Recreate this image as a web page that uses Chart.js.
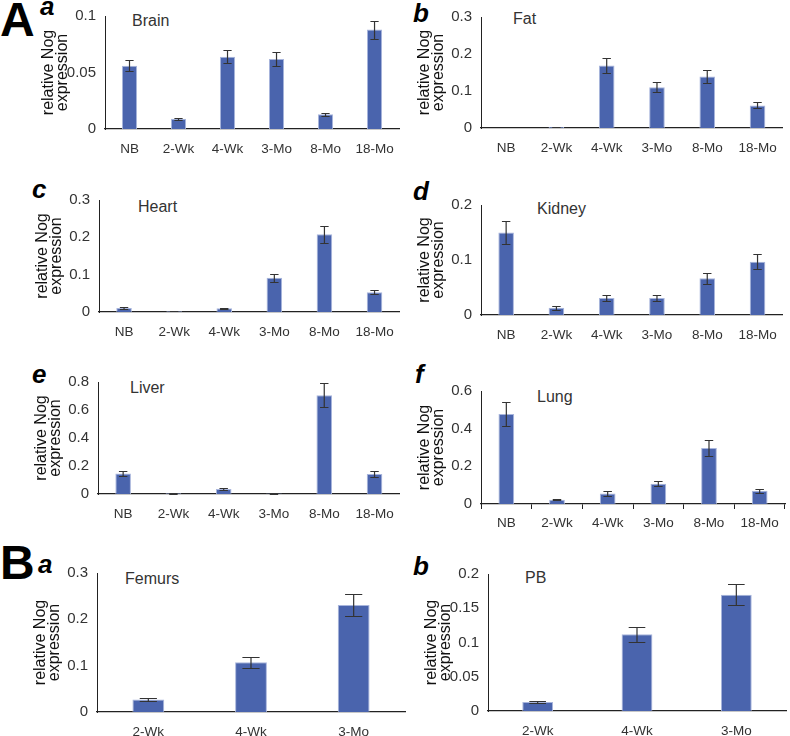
<!DOCTYPE html>
<html>
<head>
<meta charset="utf-8">
<script src="https://cdn.jsdelivr.net/npm/chart.js@4.4.1/dist/chart.umd.min.js"></script>
<style>
  body { margin: 0; background: #fff; font-family: "Liberation Sans", Arial, sans-serif; }
  #fig { position: relative; width: 790px; height: 736px; overflow: hidden; }
  #fig canvas { position: absolute; }
  .lbl { position: absolute; line-height: 1; white-space: nowrap; color: #000; }
  .big { font-size: 48px; font-weight: bold; }
  .sub { font-size: 26px; font-weight: bold; font-style: italic; }
  .organ { position: absolute; font-size: 16px; line-height: 1; color: #333; }
</style>
</head>
<body>
<div id="fig">
  <div class="lbl big" style="left:0px;top:-4px">A</div>
  <div class="lbl sub" style="left:40px;top:-7px">a</div>
  <div class="lbl sub" style="left:413px;top:0px">b</div>
  <div class="lbl sub" style="left:32px;top:176px">c</div>
  <div class="lbl sub" style="left:413px;top:178px">d</div>
  <div class="lbl sub" style="left:32px;top:361px">e</div>
  <div class="lbl sub" style="left:415px;top:361px">f</div>
  <div class="lbl big" style="left:0px;top:539px">B</div>
  <div class="lbl sub" style="left:38px;top:551px">a</div>
  <div class="lbl sub" style="left:413px;top:553px">b</div>

  <div class="organ" style="left:132px;top:13px">Brain</div>
  <div class="organ" style="left:513px;top:11px">Fat</div>
  <div class="organ" style="left:138px;top:199px">Heart</div>
  <div class="organ" style="left:537px;top:201px">Kidney</div>
  <div class="organ" style="left:130px;top:380px">Liver</div>
  <div class="organ" style="left:537px;top:389px">Lung</div>
  <div class="organ" style="left:125px;top:571px">Femurs</div>
  <div class="organ" style="left:525px;top:570px">PB</div>
</div>
<script>
// age groups
var agesA = ["NB", "2-Wk", "4-Wk", "3-Mo", "8-Mo", "18-Mo"];
var agesB = ["2-Wk", "4-Wk", "3-Mo"];

// means and error bars
var brainMean  = [0.056, 0.009, 0.064, 0.062, 0.013, 0.088];
var brainErr   = [0.005, 0.001, 0.006, 0.006, 0.0015, 0.008];
var fatMean    = [0, 0.003, 0.169, 0.110, 0.139, 0.061];
var fatErr     = [0, 0.0005, 0.021, 0.014, 0.017, 0.008];
var heartMean  = [0.011, 0.002, 0.010, 0.092, 0.208, 0.053];
var heartErr   = [0.002, 0.0005, 0.001, 0.011, 0.023, 0.0055];
var kidneyMean = [0.150, 0.013, 0.031, 0.031, 0.067, 0.097];
var kidneyErr  = [0.021, 0.003, 0.005, 0.005, 0.010, 0.0135];
var liverMean  = [0.147, 0.005, 0.035, 0.004, 0.705, 0.142];
var liverErr   = [0.020, 0.002, 0.005, 0.002, 0.085, 0.020];
var lungMean   = [0.478, 0.023, 0.056, 0.108, 0.298, 0.071];
var lungErr    = [0.065, 0.004, 0.011, 0.015, 0.041, 0.010];
var femurMean  = [0.027, 0.1075, 0.231];
var femurErr   = [0.004, 0.0115, 0.024];
var pbMean     = [0.013, 0.112, 0.1697];
var pbErr      = [0.001, 0.011, 0.0155];

// y axis ranges: [max, step]
var brainTicks  = [0.1, 0.05];
var fatTicks    = [0.3, 0.1];
var heartTicks  = [0.3, 0.1];
var kidneyTicks = [0.2, 0.1];
var liverTicks  = [0.8, 0.2];
var lungTicks   = [0.6, 0.2];
var femurTicks  = [0.3, 0.1];
var pbTicks     = [0.2, 0.05];

var YW = 90, XH = 30, PADT = 10, PADR = 4;
var FONT = "'Liberation Sans', Arial, sans-serif";

var errorBars = {
    id: 'errorBars',
    afterDatasetsDraw: function(chart) {
        var ctx = chart.ctx;
        var y = chart.scales.y;
        var ds = chart.data.datasets[0];
        var meta = chart.getDatasetMeta(0);
        ctx.save();
        ctx.strokeStyle = '#333';
        ctx.lineWidth = 1.2;
        meta.data.forEach(function(bar, i) {
            var e = ds.errors[i];
            if (!e) return;
            var v = ds.data[i];
            var top = Math.round(y.getPixelForValue(v + e)) + 0.5;
            var bot = Math.round(y.getPixelForValue(Math.max(0, v - e))) + 0.5;
            var half = bar.width * 0.27;
            ctx.beginPath();
            ctx.moveTo(bar.x, top); ctx.lineTo(bar.x, bot);
            ctx.moveTo(bar.x - half, top); ctx.lineTo(bar.x + half, top);
            ctx.moveTo(bar.x - half, bot); ctx.lineTo(bar.x + half, bot);
            ctx.stroke();
        });
        ctx.restore();
    }
};

function panel(box, labels, mean, err, ticks, xTicks) {
    var c = document.createElement('canvas');
    var left = box[0] - YW, top = box[1] - PADT;
    var w = box[2] - left + PADR, h = box[3] - top + XH;
    c.width = w; c.height = h;
    c.style.left = left + 'px'; c.style.top = top + 'px';
    document.getElementById('fig').appendChild(c);

    new Chart(c, {
        type: 'bar',
        data: {
            labels: labels,
            datasets: [{
                data: mean,
                errors: err,
                backgroundColor: '#4a64ad',
                borderColor: '#a8b5dc',
                borderWidth: 1,
                barPercentage: 0.31,
                categoryPercentage: 1
            }]
        },
        options: {
            responsive: false,
            animation: false,
            layout: { padding: { top: PADT, right: PADR, left: 0, bottom: 0 } },
            plugins: { legend: { display: false }, tooltip: { enabled: false } },
            scales: {
                x: {
                    afterFit: function(s) { s.height = XH; },
                    grid: xTicks
                        ? { display: true, drawOnChartArea: false, drawTicks: true, tickLength: 5, color: '#222' }
                        : { display: false, drawTicks: false },
                    border: { display: true, color: '#222', width: 1.3 },
                    ticks: {
                        padding: xTicks ? 6 : 12,
                        autoSkip: false, maxRotation: 0,
                        color: '#333', font: { family: FONT, size: 13.5 }
                    }
                },
                y: {
                    min: 0, max: ticks[0],
                    afterFit: function(s) { s.width = YW; },
                    grid: { display: false, drawTicks: false },
                    border: { display: true, color: '#222', width: 1 },
                    ticks: {
                        stepSize: ticks[1], padding: 9,
                        color: '#333', font: { family: FONT, size: 15 },
                        callback: function(v) { return String(Number(v.toFixed(3))); }
                    },
                    title: {
                        display: true,
                        text: ['relative Nog', 'expression'],
                        color: '#111',
                        font: { family: FONT, size: 16, lineHeight: 0.92 },
                        padding: { top: 26, bottom: 0 }
                    }
                }
            }
        },
        plugins: [errorBars]
    });
}

panel([105, 8, 402, 129], agesA, brainMean, brainErr, brainTicks);
panel([481, 9, 785, 128], agesA, fatMean, fatErr, fatTicks);
panel([99, 192, 402, 312], agesA, heartMean, heartErr, heartTicks);
panel([481, 197, 785, 315], agesA, kidneyMean, kidneyErr, kidneyTicks);
panel([98, 374, 402, 494], agesA, liverMean, liverErr, liverTicks);
panel([481, 383, 785, 504], agesA, lungMean, lungErr, lungTicks, true);
panel([97, 565, 405, 712], agesB, femurMean, femurErr, femurTicks);
panel([488, 566, 786, 711], agesB, pbMean, pbErr, pbTicks);
</script>
</body>
</html>
